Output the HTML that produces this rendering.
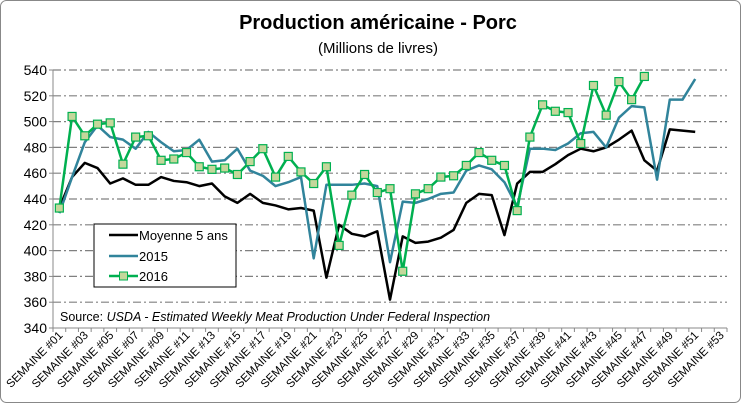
<!DOCTYPE html>
<html><head><meta charset="utf-8"><style>
body{margin:0;background:#fff;}
svg{display:block;font-family:"Liberation Sans",Calibri,sans-serif;}
</style></head><body>
<svg id="c" width="741" height="403" viewBox="0 0 741 403">
<rect x="0.5" y="0.5" width="740" height="402" rx="6" fill="#fff" stroke="#888"/>
<text x="378" y="29" text-anchor="middle" font-size="20" font-weight="bold">Production américaine - Porc</text>
<text x="378" y="53" text-anchor="middle" font-size="15">(Millions de livres)</text>
<g id="grid"></g><g id="axes"></g><g id="series"></g>
<g>
<rect x="94" y="224" width="142" height="63" fill="#fff" stroke="#000"/>
<line x1="109" y1="235" x2="138" y2="235" stroke="#000" stroke-width="2.5"/>
<text x="139" y="240" font-size="13">Moyenne 5 ans</text>
<line x1="109" y1="256" x2="138" y2="256" stroke="#31849b" stroke-width="2.5"/>
<text x="139" y="261" font-size="13">2015</text>
<line x1="109" y1="276" x2="138" y2="276" stroke="#00b050" stroke-width="2.5"/>
<rect x="119.5" y="272" width="8" height="8" fill="#c4d79b" stroke="#00b050"/>
<text x="139" y="281" font-size="13">2016</text>
</g>
<text x="60" y="321" font-size="12.5">Source: <tspan font-style="italic">USDA - Estimated Weekly Meat Production Under Federal Inspection</tspan></text>
</svg>
<script>
const weeks=[];for(let i=1;i<=53;i++)weeks.push('SEMAINE #'+String(i).padStart(2,'0'));
const yTicks=[340,360,380,400,420,440,460,480,500,520,540];
const moyenne=[433,457,468,464,452,456,451,451,457,454,453,450,452,442,437,444,437,435,432,433,431,379,420,413,411,415,362,411,406,407,410,416,437,444,443,412,452,461,461,467,474,479,477,480,486,493,470,462,494,493,492];
const y2015=[429,457,484,497,488,486,479,492,484,477,478,486,469,470,479,462,458,450,453,457,394,451,451,451,452,450,391,438,437,440,444,445,462,466,463,453,434,479,479,478,483,491,492,480,503,512,511,455,517,517,533];
const y2016=[433,504,489,498,499,467,488,489,470,471,476,465,463,464,459,469,479,457,473,461,452,465,404,443,459,445,448,384,444,448,457,458,466,476,470,466,431,488,513,508,507,483,528,505,531,517,535];
const L=53,R=727,T=70,B=328,ymin=340,ymax=540;
const step=(R-L)/weeks.length;
const xs=i=>L+step*(i+0.5);
const ys=v=>B-(v-ymin)/(ymax-ymin)*(B-T);
const NS='http://www.w3.org/2000/svg';
function mk(tag,attrs,parent){const e=document.createElementNS(NS,tag);for(const k in attrs)e.setAttribute(k,attrs[k]);parent.appendChild(e);return e;}
const grid=document.getElementById('grid'),axes=document.getElementById('axes'),ser=document.getElementById('series');
yTicks.forEach(t=>{
 if(t>ymin){const g=mk('line',{x1:L,x2:R,y1:ys(t),y2:ys(t),stroke:'#808080','stroke-width':1.2,'stroke-dasharray':'8,3,2,3'},grid);
 
 }
 const tk=mk('line',{x1:L-4,x2:L,y1:ys(t),y2:ys(t),stroke:'#888'},axes);
 
 
 const lb=mk('text',{x:L-6,y:ys(t)+5,'text-anchor':'end','font-size':14},axes);lb.textContent=t;
 
 
});
const ya=mk('line',{x1:L,x2:L,y1:T,y2:B,stroke:'#888'},axes);


const xa=mk('line',{x1:L,x2:R,y1:B,y2:B,stroke:'#888'},axes);


for(let i=0;i<=weeks.length;i++){const tk=mk('line',{x1:L+step*i,x2:L+step*i,y1:B,y2:B+4,stroke:'#888'},axes);
 
 }
weeks.forEach((w,i)=>{if(i%2)return;const x=xs(i)+4,y=B+8;
 const t=mk('text',{x:x,y:y,'text-anchor':'end','font-size':11.5,transform:`rotate(-45 ${x} ${y})`},axes);t.textContent=w;
 
 });
function line(data,color,name){const p=mk('polyline',{points:data.map((v,i)=>xs(i)+','+ys(v)).join(' '),fill:'none',stroke:color,'stroke-width':2.5,'stroke-linejoin':'round'},ser);
 
 }
line(moyenne,'#000','series-moyenne-5-ans');
line(y2015,'#31849b','series-2015');
line(y2016,'#00b050','series-2016');
y2016.forEach((v,i)=>{const r=mk('rect',{x:xs(i)-4,y:ys(v)-4,width:8,height:8,fill:'#c4d79b',stroke:'#00b050','stroke-width':1.2},ser);
 
 });
</script>
</body></html>
